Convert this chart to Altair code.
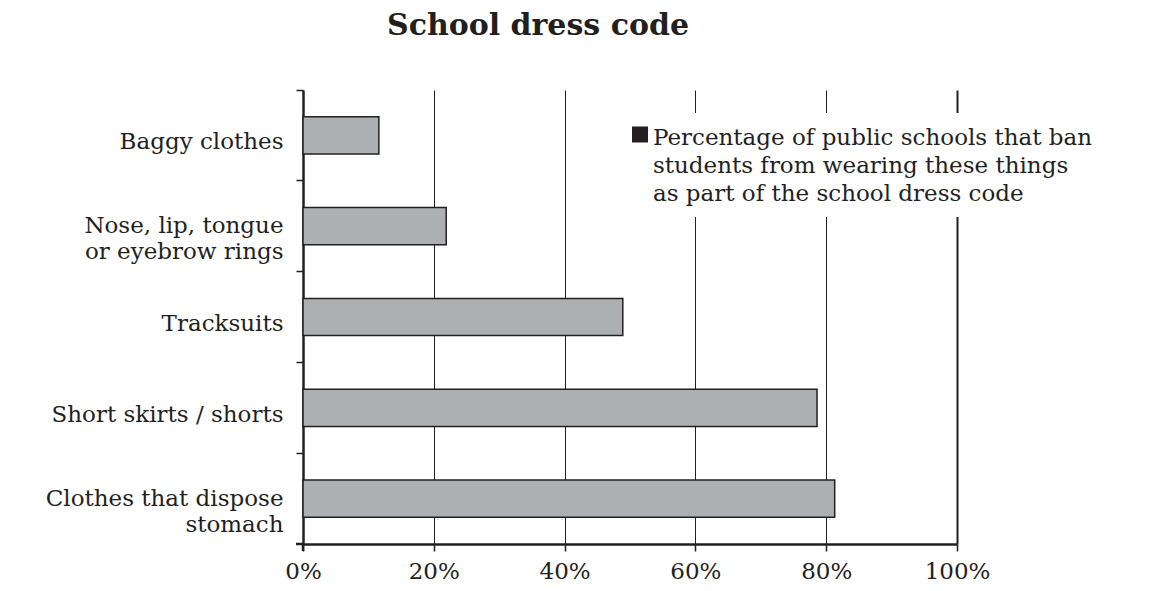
import altair as alt
import pandas as pd

categories = [
    "Baggy clothes",
    "Nose, lip, tongue\nor eyebrow rings",
    "Tracksuits",
    "Short skirts / shorts",
    "Clothes that dispose\nstomach",
]
values = [11.6, 21.9, 48.9, 78.6, 81.3]
x_ticks = [0, 20, 40, 60, 80, 100]
title_text = "School dress code"
legend_text = ("Percentage of public schools that ban\n"
               "students from wearing these things\n"
               "as part of the school dress code")

INK = "#231f20"
FONT = "DejaVu Serif"
W, H = 654, 454
FS = 23

df = pd.DataFrame({"item": categories, "pct": values})

x_enc = alt.X(
    "pct:Q",
    scale=alt.Scale(domain=[0, 100], nice=False, zero=True),
    axis=alt.Axis(
        values=x_ticks,
        labelExpr="datum.value + '%'",
        title=None,
        grid=True,
        gridColor=INK,
        gridOpacity=1,
        gridWidth={"condition": {"test": "datum.value == 100", "value": 2}, "value": 1},
        domainColor=INK,
        domainWidth=2.5,
        tickColor=INK,
        tickWidth=1.5,
        tickSize=7,
        labelPadding=9,
        labelFlush=False,
        labelOverlap=False,
        labelFont=FONT,
        labelFontSize=FS,
        labelColor=INK,
    ),
)
y_enc = alt.Y(
    "item:N",
    sort=categories,
    scale=alt.Scale(paddingInner=0, paddingOuter=0),
    axis=alt.Axis(
        title=None,
        labelExpr="split(datum.label, '\\n')",
        labelOffset={"condition": {"test": "indexof(datum.label, '\\n') < 0", "value": 7}, "value": 0},
        labelLineHeight=26,
        bandPosition=0,
        domainColor=INK,
        domainWidth=2.5,
        tickColor=INK,
        tickWidth=1.5,
        tickSize=7,
        labelPadding=13,
        labelFont=FONT,
        labelFontSize=FS,
        labelColor=INK,
        labelLimit=400,
    ),
)

bars = alt.Chart(df).mark_bar(
    height=alt.RelativeBandSize(0.41),
    fill="#adb0b2",
    stroke=INK,
    strokeWidth=1.5,
).encode(x=x_enc, y=y_enc)

one = pd.DataFrame({"t": [legend_text], "title": [title_text]})
leg_bg = alt.Chart(one).mark_rect(fill="white").encode(
    x=alt.value(312), x2=alt.value(665), y=alt.value(23), y2=alt.value(127)
)
leg_sq = alt.Chart(one).mark_square(size=256, color=INK, opacity=1).encode(
    x=alt.value(337), y=alt.value(44.5)
)
leg_txt = alt.Chart(one).mark_text(
    align="left", baseline="alphabetic", lineBreak="\n", lineHeight=28,
    font=FONT, fontSize=FS, color=INK,
).encode(x=alt.value(350), y=alt.value(55), text="t:N")

title = alt.Chart(one).mark_text(
    align="center", baseline="alphabetic", font=FONT, fontSize=30,
    fontWeight="bold", color=INK,
).encode(x=alt.value(235), y=alt.value(-55), text="title:N")

# small extensions of the axis lines at the bottom-left corner
corner_h = alt.Chart(one).mark_rule(color=INK, strokeWidth=2.5).encode(
    x=alt.value(-7), x2=alt.value(0), y=alt.value(H)
)
corner_v = alt.Chart(one).mark_rule(color=INK, strokeWidth=2.5).encode(
    x=alt.value(0), y=alt.value(H), y2=alt.value(H + 7)
)

chart = alt.layer(bars, leg_bg, leg_sq, leg_txt, title, corner_h, corner_v).properties(
    width=W,
    height=H,
    autosize=alt.AutoSizeParams(type="none"),
    padding={"left": 295, "top": 82, "right": 198, "bottom": 39},
).configure(background="white").configure_view(stroke=None)

chart.save("out.html", embed_options={"renderer": "svg", "actions": False})
